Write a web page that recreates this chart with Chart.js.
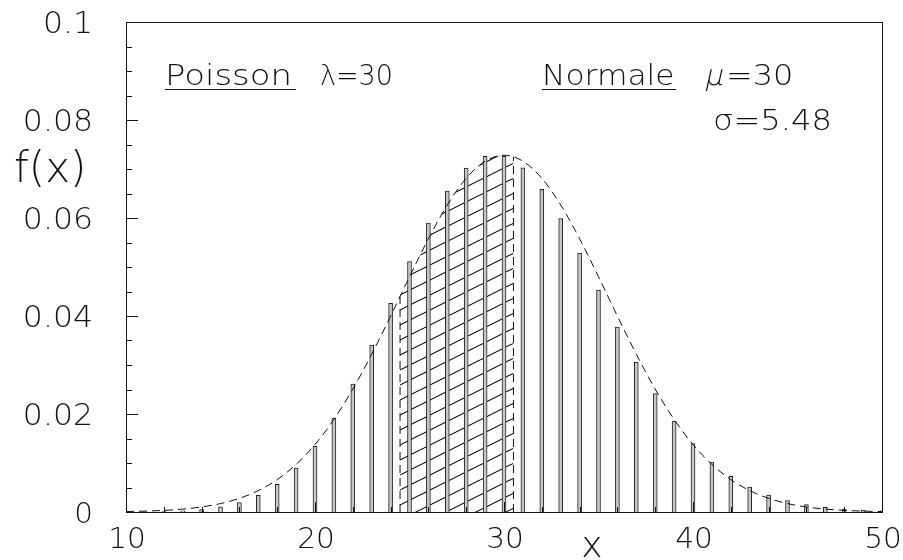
<!DOCTYPE html>
<html>
<head>
<meta charset="utf-8">
<script src="https://cdn.jsdelivr.net/npm/chart.js@4/dist/chart.umd.min.js"></script>
<style>
  html, body { margin: 0; padding: 0; background: #fff; }
  #wrap { width: 903px; height: 560px; }
</style>
</head>
<body>
<div id="wrap"><canvas id="c" width="903" height="560"></canvas></div>
<script>
// Poisson probabilities P(k), lambda = 30
const kValues = [10, 11, 12, 13, 14, 15, 16, 17, 18, 19, 20, 21, 22, 23, 24, 25, 26, 27, 28, 29,
                 30, 31, 32, 33, 34, 35, 36, 37, 38, 39, 40, 41, 42, 43, 44, 45, 46, 47, 48, 49, 50];
const poissonP = [0.0000152, 0.0000415, 0.000104, 0.000239, 0.000513, 0.00103, 0.00192, 0.00340, 0.00566, 0.00894,
                  0.01340, 0.01915, 0.02611, 0.03406, 0.04257, 0.05109, 0.05895, 0.06550, 0.07018, 0.07260,
                  0.07260, 0.07025, 0.06586, 0.05988, 0.05283, 0.04528, 0.03774, 0.03060, 0.02416, 0.01858,
                  0.01394, 0.01020, 0.00728, 0.00508, 0.00346, 0.00231, 0.00151, 0.000962, 0.000601, 0.000368, 0.000221];

// Normal density, mu = 30, sigma = 5.48
const normalX = kValues;
const normalY = [0.0000933, 0.000179, 0.000330, 0.000592, 0.00103, 0.00172, 0.00279, 0.00437, 0.00662, 0.00971,
                 0.01377, 0.01890, 0.02508, 0.03220, 0.03998, 0.04801, 0.05577, 0.06267, 0.06811, 0.07160,
                 0.07280, 0.07160, 0.06811, 0.06267, 0.05577, 0.04801, 0.03998, 0.03220, 0.02508, 0.01890,
                 0.01377, 0.00971, 0.00662, 0.00437, 0.00279, 0.00172, 0.00103, 0.000592, 0.000330, 0.000179, 0.0000933];

// Shaded interval 24.5 .. 30.5 under the normal curve
const shadeX = [24.5, 25, 26, 27, 28, 29, 30, 30.5];
const shadeY = [0.04399, 0.04801, 0.05577, 0.06267, 0.06811, 0.07160, 0.07280, 0.07250];

// Axis tick labels
const xTickValues = [10, 20, 30, 40, 50];
const xTickLabels = ['10', '20', '30', '40', '50'];
const yTickValues = [0.02, 0.04, 0.06, 0.08, 0.1];
const yTickLabels = ['0.02', '0.04', '0.06', '0.08', '0.1'];

const FONT = '"DejaVu Sans", sans-serif';
const INK = '#111';

function zip(xs, ys) { return xs.map((x, i) => ({ x: x, y: ys[i] })); }
function isMultiple(v, step) { const r = v / step; return Math.abs(r - Math.round(r)) < 1e-6; }

// Text drawn with a horizontal stretch and optional slant
function wideText(ctx, text, x, y, font, sx, align, slant) {
  ctx.save();
  ctx.font = font;
  ctx.textAlign = align || 'left';
  ctx.textBaseline = 'alphabetic';
  ctx.translate(x, y);
  ctx.transform(sx, 0, -(slant || 0), 1, 0, 0);
  ctx.fillText(text, 0, 0);
  ctx.restore();
}

// Diagonal hatch pattern
function makeHatch() {
  const w = 30, h = 15;
  const c = document.createElement('canvas');
  c.width = w; c.height = h;
  const g = c.getContext('2d');
  g.strokeStyle = '#000';
  g.lineWidth = 1.1;
  for (let n = -1; n <= 1; n++) {
    g.beginPath();
    g.moveTo(-2, h + 1 + n * h);
    g.lineTo(w + 2, -1 + n * h);
    g.stroke();
  }
  return document.getElementById('c').getContext('2d').createPattern(c, 'repeat');
}

// Frame, inward tick marks, tick labels and text
const decorations = {
  id: 'decorations',
  afterDatasetsDraw(chart) {
    const ctx = chart.ctx;
    const a = chart.chartArea;
    const xs = chart.scales.x, ys = chart.scales.y;
    ctx.save();
    ctx.strokeStyle = INK;
    ctx.lineWidth = 1;
    ctx.strokeRect(Math.round(a.left) + 0.5, Math.round(a.top) + 0.5,
                   Math.round(a.right - a.left), Math.round(a.bottom - a.top));
    ctx.beginPath();
    ys.ticks.forEach(t => {
      const y = Math.round(ys.getPixelForValue(t.value)) + 0.5;
      const len = isMultiple(t.value, 0.02) ? 12 : 6;
      ctx.moveTo(a.left, y); ctx.lineTo(a.left + len, y);
    });
    xs.ticks.forEach(t => {
      const x = Math.round(xs.getPixelForValue(t.value)) + 0.5;
      const len = isMultiple(t.value, 10) ? 10 : 5;
      ctx.moveTo(x, a.bottom); ctx.lineTo(x, a.bottom - len);
    });
    ctx.stroke();

    ctx.fillStyle = INK;
    // tick labels
    yTickValues.forEach((v, i) => {
      const y = ys.getPixelForValue(v);
      wideText(ctx, yTickLabels[i], 93, y + 11, '200 30px ' + FONT, 1.05, 'right');
    });
    wideText(ctx, '0', 93, ys.getPixelForValue(0) + 11, '200 28px ' + FONT, 1.05, 'right');
    xTickValues.forEach((v, i) => {
      const x = xs.getPixelForValue(v);
      wideText(ctx, xTickLabels[i], x + 1, 548, '200 29px ' + FONT, 1.02, 'center');
    });

    // annotations
    const f29 = '200 29px ' + FONT;
    wideText(ctx, 'Poisson', 165, 85, f29, 1.17);
    wideText(ctx, '\u03bb=30', 320, 85, f29, 0.93);
    wideText(ctx, 'Normale', 542, 85, f29, 1.08);
    wideText(ctx, '\u03bc', 704, 85, f29, 1.0, 'left', 0.22);
    wideText(ctx, '=30', 726, 85, f29, 1.1);
    wideText(ctx, '\u03c3=5.48', 713, 130, f29, 1.11);
    ctx.beginPath();
    ctx.moveTo(165, 89.5); ctx.lineTo(296, 89.5);
    ctx.moveTo(542, 89.5); ctx.lineTo(676, 89.5);
    ctx.stroke();

    wideText(ctx, 'f(x)', 14, 182, '200 42px ' + FONT, 1.0);
    wideText(ctx, 'x', 592, 557, '200 36px ' + FONT, 1.0, 'center');
    ctx.restore();
  }
};

const chart = new Chart(document.getElementById('c'), {
  data: {
    datasets: [
      {
        type: 'line', label: 'Normale', data: zip(normalX, normalY),
        borderColor: INK, borderWidth: 1, borderDash: [8, 5],
        pointRadius: 0, cubicInterpolationMode: 'monotone', fill: false, order: 0
      },
      {
        type: 'bar', label: 'Poisson', data: zip(kValues, poissonP),
        backgroundColor: '#c8c8c8', borderColor: '#222', borderWidth: 1,
        barThickness: 4, order: 1
      },
      {
        type: 'line', label: 'area', data: zip(shadeX, shadeY),
        borderColor: 'rgba(0,0,0,0)', borderWidth: 0, pointRadius: 0,
        cubicInterpolationMode: 'monotone', fill: 'origin',
        backgroundColor: makeHatch(), order: 3
      },
      {
        type: 'line', label: 'edgeL',
        data: [{ x: shadeX[0], y: 0 }, { x: shadeX[0], y: shadeY[0] }],
        borderColor: INK, borderWidth: 1, borderDash: [8, 5], pointRadius: 0, fill: false, order: 2
      },
      {
        type: 'line', label: 'edgeR',
        data: [{ x: shadeX[shadeX.length - 1], y: 0 }, { x: shadeX[shadeX.length - 1], y: shadeY[shadeY.length - 1] }],
        borderColor: INK, borderWidth: 1, borderDash: [8, 5], pointRadius: 0, fill: false, order: 2
      }
    ]
  },
  options: {
    responsive: false,
    animation: false,
    events: [],
    layout: { padding: { left: 0, top: 22, right: 21, bottom: 0 } },
    plugins: { legend: { display: false }, tooltip: { enabled: false } },
    scales: {
      x: {
        type: 'linear', min: 10, max: 50, offset: false,
        afterFit(s) { s.height = 48; s.paddingLeft = 0; s.paddingRight = 0; },
        grid: { display: false, drawTicks: false },
        border: { display: false },
        ticks: { stepSize: 2, autoSkip: false, display: false }
      },
      y: {
        type: 'linear', min: 0, max: 0.1,
        afterFit(s) { s.width = 126; s.paddingTop = 0; s.paddingBottom = 0; },
        grid: { display: false, drawTicks: false },
        border: { display: false },
        ticks: { stepSize: 0.005, autoSkip: false, display: false }
      }
    }
  },
  plugins: [decorations]
});
</script>
</body>
</html>
